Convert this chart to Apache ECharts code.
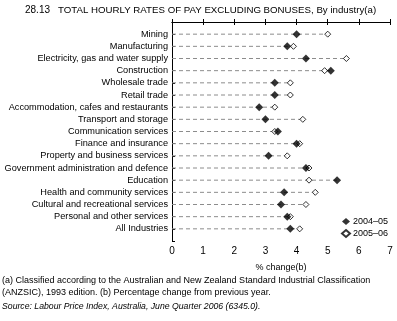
<!DOCTYPE html>
<html><head><meta charset="utf-8">
<script src="https://cdn.jsdelivr.net/npm/echarts@6/dist/echarts.min.js"></script>
<style>html,body{margin:0;padding:0;background:#fff}#c{width:397px;height:321px}</style>
</head><body><div id="c"></div>
<script>
const categories = ["Mining","Manufacturing","Electricity, gas and water supply","Construction","Wholesale trade","Retail trade","Accommodation, cafes and restaurants","Transport and storage","Communication services","Finance and insurance","Property and business services","Government administration and defence","Education","Health and community services","Cultural and recreational services","Personal and other services","All Industries"];
const values2004_05 = [4.0,3.7,4.3,5.1,3.3,3.3,2.8,3.0,3.4,4.0,3.1,4.3,5.3,3.6,3.5,3.7,3.8];
const values2005_06 = [5.0,3.9,5.6,4.9,3.8,3.8,3.3,4.2,3.3,4.1,3.7,4.4,4.4,4.6,4.3,3.8,4.1];
const seriesNames = ["2004\u201305","2005\u201306"];
const xTicks = [0,1,2,3,4,5,6,7];

const FONT = "Liberation Sans";
const chart = echarts.init(document.getElementById('c'), null, {renderer:'canvas'});
const rowsA = values2004_05.map((v,i)=>[v,i+1]);
const rowsB = values2005_06.map((v,i)=>[v,i+1]);
const maxRows = categories.map((c,i)=>[Math.max(values2004_05[i],values2005_06[i]), i+1]);

chart.setOption({
  animation:false,
  textStyle:{fontFamily:FONT,color:'#000'},
  graphic:[
    {type:'text',left:25,top:5,style:{text:'28.13',font:'10px '+FONT,fill:'#000'}},
    {type:'text',left:58,top:5,style:{text:'TOTAL HOURLY RATES OF PAY EXCLUDING BONUSES, By industry(a)',font:'9.7px '+FONT,fill:'#000'}},
    {type:'text',left:2,top:276,style:{text:'(a) Classified according to the Australian and New Zealand Standard Industrial Classification',font:'9px '+FONT,fill:'#000'}},
    {type:'text',left:2,top:288,style:{text:'(ANZSIC), 1993 edition. (b) Percentage change from previous year.',font:'9px '+FONT,fill:'#000'}},
    {type:'text',left:2,top:302,style:{text:'Source: Labour Price Index, Australia, June Quarter 2006 (6345.0).',font:'italic 8.7px '+FONT,fill:'#000'}}
  ],
  legend:{
    orient:'vertical', left:336, top:212, itemGap:3, itemWidth:8, itemHeight:7,
    textStyle:{fontFamily:FONT,fontSize:9,color:'#000',padding:[0,0,0,-2]},
    data:[{name:seriesNames[0],icon:'diamond'},{name:seriesNames[1],icon:'diamond'}]
  },
  grid:{left:172,right:7,top:22,bottom:80},
  xAxis:[
    {type:'value',position:'bottom',min:0,max:7,interval:1,
     name:'% change(b)',nameLocation:'middle',nameGap:22,
     nameTextStyle:{fontFamily:FONT,fontSize:9,color:'#000'},
     axisLine:{show:true,lineStyle:{color:'#000',width:1}},
     axisTick:{show:true,inside:true,length:3,lineStyle:{color:'#000'}},
     axisLabel:{fontFamily:FONT,fontSize:10,color:'#000',margin:5,formatter:v=>xTicks.includes(v)?String(v):''},
     splitLine:{show:false}},
    {type:'value',position:'top',min:0,max:7,interval:1,
     axisLine:{show:true,lineStyle:{color:'#000',width:1}},
     axisTick:{show:true,inside:true,length:3,lineStyle:{color:'#000'}},
     axisLabel:{show:false},splitLine:{show:false}}
  ],
  yAxis:[
    {type:'value',position:'left',min:0,max:18,interval:1,inverse:true,
     axisLine:{show:true,lineStyle:{color:'#000',width:1}},
     axisTick:{show:true,inside:true,length:3,lineStyle:{color:'#000'}},
     axisLabel:{fontFamily:FONT,fontSize:9.2,color:'#000',margin:4,formatter:v=>categories[v-1]||''},
     splitLine:{show:false}},
    {type:'value',position:'right',min:0,max:18,interval:1,inverse:true,
     axisLine:{show:true,lineStyle:{color:'#000',width:1}},
     axisTick:{show:false},axisLabel:{show:false},splitLine:{show:false}}
  ],
  series:[
    {type:'custom',silent:true,data:maxRows,z:1,
     renderItem:(params,api)=>{
       const p0 = api.coord([0, api.value(1)]);
       const p1 = api.coord([api.value(0), api.value(1)]);
       return {type:'line',shape:{x1:p0[0],y1:p0[1],x2:p1[0],y2:p1[1]},
         style:{stroke:'#8c8c8c',lineWidth:1,lineDash:[4,3]}};
     }},
    {name:seriesNames[1],type:'scatter',data:rowsB,symbol:'diamond',symbolSize:6,z:3,
     itemStyle:{color:'#fff',borderColor:'#000',borderWidth:1}},
    {name:seriesNames[0],type:'scatter',data:rowsA,symbol:'diamond',symbolSize:8,z:4,
     itemStyle:{color:'#000'}}
  ]
});
</script></body></html>
